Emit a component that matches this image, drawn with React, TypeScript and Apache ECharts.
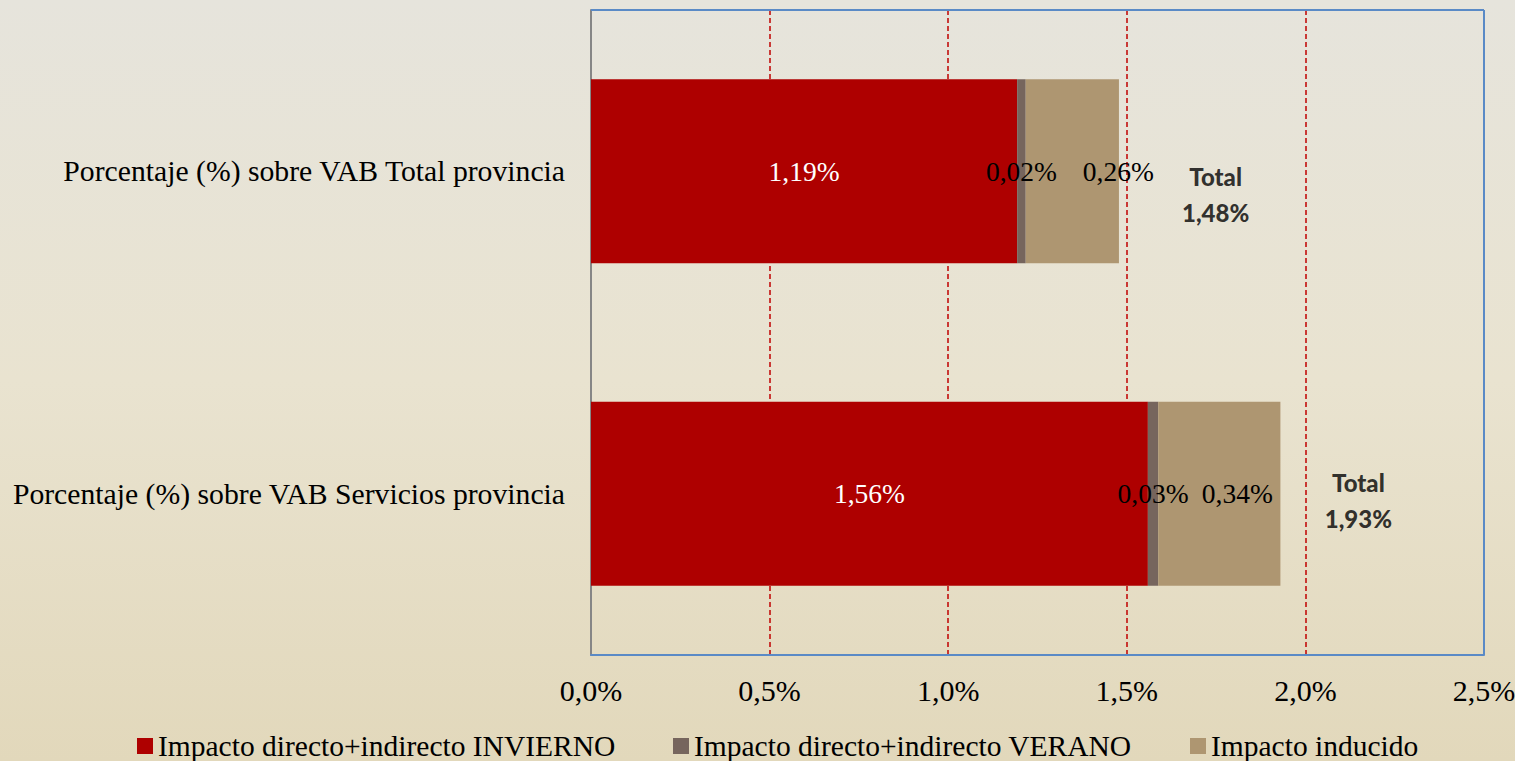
import React, { useEffect, useRef } from "react";
import * as echarts from "echarts";

const categories = [
  "Porcentaje (%) sobre VAB Servicios provincia",
  "Porcentaje (%) sobre VAB Total provincia",
];
const seriesNames = [
  "Impacto directo+indirecto INVIERNO",
  "Impacto directo+indirecto VERANO",
  "Impacto inducido",
];
const invierno = [1.559, 1.193];
const verano = [0.029, 0.024];
const inducido = [0.342, 0.261];
const totals = [1.93, 1.48];

const fmt = (v: number, d: number) => v.toFixed(d).replace(".", ",") + "%";

export default function App() {
  const ref = useRef<HTMLDivElement>(null);
  useEffect(() => {
    if (!ref.current) return;
    const chart = echarts.init(ref.current, undefined, { renderer: "svg" });
    const serif = "Liberation Serif";
    const labelBase = { fontFamily: serif, fontSize: 27.5 };
    const tanOffsets = [[18, 0], [46, 0]];
    const totalOffsets = [[78, 7], [96, 23]];
    const legendLefts = [137, 673, 1190];
    chart.setOption({
      animation: false,
      backgroundColor: new echarts.graphic.LinearGradient(0, 0, 0, 1, [
        { offset: 0, color: "#e6e4dc" },
        { offset: 0.5, color: "#e9e3d0" },
        { offset: 1, color: "#e2d8bb" },
      ]),
      grid: { left: 591, right: 31, top: 10, bottom: 106, containLabel: false, outerBoundsMode: "none" },
      legend: seriesNames.map((n, i) => ({
        top: 731,
        left: legendLefts[i],
        itemWidth: 16,
        itemHeight: 16,
        itemGap: 0,
        padding: 0,
        itemTextGap: 4,
        icon: "rect",
        textStyle: { fontFamily: serif, fontSize: 29.5, color: "#000" },
        data: [n],
      })),
      xAxis: {
        type: "value",
        min: 0,
        max: 2.5,
        interval: 0.5,
        axisLine: { show: true, lineStyle: { color: "#5a8ac6", width: 2 } },
        axisTick: { show: false },
        axisLabel: {
          fontFamily: serif,
          fontSize: 30,
          color: "#000",
          margin: 20,
          formatter: (v: number) => fmt(v, 1),
        },
        splitLine: { show: true, lineStyle: { color: "#c00000", type: [5, 3], width: 1.5 } },
      },
      yAxis: {
        type: "category",
        data: categories,
        axisLine: { show: true, lineStyle: { color: "#868686", width: 2 } },
        axisTick: { show: false },
        axisLabel: { fontFamily: serif, fontSize: 29.7, color: "#000", margin: 26 },
      },
      graphic: [
        { type: "line", shape: { x1: 591, y1: 10, x2: 1484, y2: 10 }, style: { stroke: "#5a8ac6", lineWidth: 2 }, z: 10 },
        { type: "line", shape: { x1: 1484, y1: 10, x2: 1484, y2: 655 }, style: { stroke: "#5a8ac6", lineWidth: 2 }, z: 10 },
      ],
      series: [
        {
          name: seriesNames[0],
          type: "bar",
          stack: "s",
          barWidth: "57%",
          itemStyle: { color: "#ae0000" },
          label: { show: true, position: "inside", color: "#fff", ...labelBase, formatter: (p: any) => fmt(p.value, 2) },
          data: invierno,
        },
        {
          name: seriesNames[1],
          type: "bar",
          stack: "s",
          itemStyle: { color: "#76655d" },
          label: { show: true, position: "inside", color: "#000", ...labelBase, formatter: (p: any) => fmt(p.value, 2) },
          data: verano,
        },
        {
          name: seriesNames[2],
          type: "bar",
          stack: "s",
          itemStyle: { color: "#ae9671" },
          label: { show: true, position: "inside", color: "#000", ...labelBase, formatter: (p: any) => fmt(p.value, 2) },
          data: inducido.map((v, i) => ({ value: v, label: { offset: tanOffsets[i] } })),
        },
        {
          name: "Total",
          type: "scatter",
          symbolSize: 0,
          silent: true,
          z: 5,
          label: {
            show: true,
            position: "inside",
            color: "#000",
            fontFamily: "Lato",
            fontWeight: 900,
            fontSize: 24,
            lineHeight: 36,
            align: "center",
            formatter: (p: any) => "Total\n" + fmt(totals[p.dataIndex], 2),
          },
          data: totals.map((t, i) => ({ value: [t, categories[i]], label: { offset: totalOffsets[i] } })),
        },
      ],
    });
    return () => chart.dispose();
  }, []);
  return <div ref={ref} style={{ position: "absolute", left: 0, top: 0, width: 1515, height: 761 }} />;
}
